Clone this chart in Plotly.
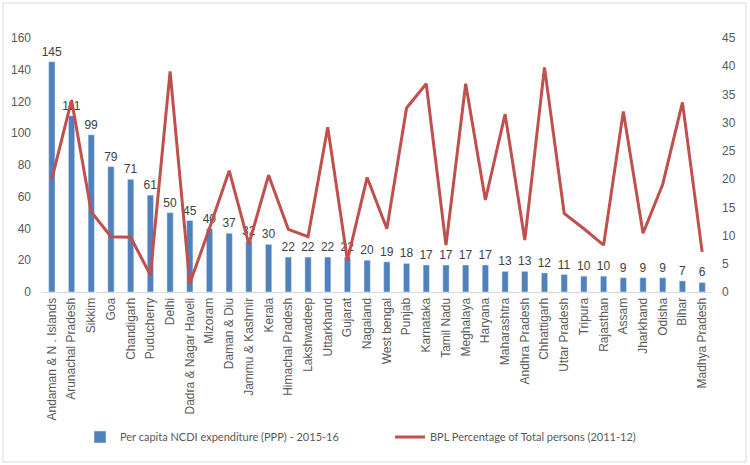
import plotly.graph_objects as go

states = ["Andaman & N . Islands", "Arunachal Pradesh", "Sikkim", "Goa", "Chandigarh",
          "Puducherry", "Delhi", "Dadra & Nagar Haveli", "Mizoram", "Daman & Diu",
          "Jammu & Kashmir", "Kerala", "Himachal Pradesh", "Lakshwadeep", "Uttarkhand",
          "Gujarat", "Nagaland", "West bengal", "Punjab", "Karnataka", "Tamil Nadu",
          "Meghalaya", "Haryana", "Maharashtra", "Andhra Pradesh", "Chhattigarh",
          "Uttar Pradesh", "Tripura", "Rajasthan", "Assam", "Jharkhand", "Odisha",
          "Bihar", "Madhya Pradesh"]

ncdi_expenditure = [145, 111, 99, 79, 71, 61, 50, 45, 40, 37, 32, 30, 22, 22, 22, 22, 20,
                    19, 18, 17, 17, 17, 17, 13, 13, 12, 11, 10, 10, 9, 9, 9, 7, 6]

bpl_percentage = [20.0, 34.0, 14.2, 9.8, 9.7, 3.0, 39.1, 1.5, 11.3, 21.5, 8.5, 20.7, 11.1,
                  9.8, 29.2, 5.6, 20.3, 11.2, 32.6, 36.9, 8.3, 36.9, 16.3, 31.5, 9.2,
                  39.8, 13.9, 11.2, 8.3, 32.0, 10.4, 19.1, 33.6, 7.1]

left_ticks = [0, 20, 40, 60, 80, 100, 120, 140, 160]
right_ticks = [0, 5, 10, 15, 20, 25, 30, 35, 40, 45]

W, H = 750, 465
ML, MR, MT, MB = 42, 38, 38, 173
font = "Liberation Sans"
grey = "#595959"

fig = go.Figure()
fig.add_trace(go.Bar(
    x=states, y=ncdi_expenditure, name="Per capita NCDI expenditure (PPP) - 2015-16",
    marker_color="#4f81bd", text=[str(v) for v in ncdi_expenditure],
    textposition="outside", cliponaxis=False, constraintext="none",
    textfont=dict(size=12, color="#404040", family=font),
))
fig.add_trace(go.Scatter(
    x=states, y=bpl_percentage, name="BPL Percentage of Total persons (2011-12)",
    mode="lines", line=dict(color="#c0504d", width=3), yaxis="y2",
))

pw = W - ML - MR
ph = H - MT - MB
fig.add_shape(type="rect", xref="paper", yref="paper",
              x0=(3 - ML) / pw, x1=(W - 4 - ML) / pw,
              y0=-(MB - 3) / ph, y1=(H - MB - 3) / ph,
              line=dict(color="#d9d9d9", width=1), layer="below")

fig.update_layout(
    width=W, height=H, margin=dict(l=ML, r=MR, t=MT, b=MB, autoexpand=False),
    paper_bgcolor="white", plot_bgcolor="white",
    font=dict(family=font, color=grey, size=12),
    bargap=0.68,
    showlegend=True,
    legend=dict(orientation="h", x=(80 - ML) / pw, xanchor="left",
                y=-(437 - (H - MB)) / ph, yanchor="middle",
                entrywidth=265, entrywidthmode="pixels",
                font=dict(size=11, color=grey, family="Lato"), traceorder="normal"),
    xaxis=dict(tickangle=-90, tickfont=dict(size=12, color=grey), showgrid=False,
               showline=True, linecolor="#d9d9d9", linewidth=1, ticks="", automargin=False),
    yaxis=dict(range=[0, 160], tickvals=left_ticks, showgrid=False, zeroline=False,
               tickfont=dict(size=12, color=grey), ticks="", automargin=False,
               ticklabelstandoff=10),
    yaxis2=dict(range=[0, 45], tickvals=right_ticks, overlaying="y", side="right",
                showgrid=False, zeroline=False, tickfont=dict(size=12, color=grey), ticks="",
                automargin=False, ticklabelstandoff=9),
)

fig.write_html("out.html", config={"displayModeBar": False},
               post_script="document.body.style.margin='0';")
